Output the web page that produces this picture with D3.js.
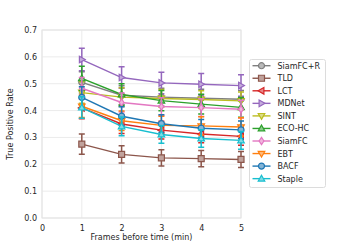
<!DOCTYPE html>
<html>
<head>
<meta charset="utf-8">
<script src="https://cdn.jsdelivr.net/npm/d3@7"></script>
<style>
  body { margin: 0; background: #fff; }
  text { font-family: "DejaVu Sans", sans-serif; fill: #262626; }
</style>
</head>
<body>
<svg id="chart"></svg>
<script>
const WIDTH = 337;
const HEIGHT = 245;
const margin = { top: 30, right: 96, bottom: 27, left: 42 };

// frames before time (min)
const minutes = [1, 2, 3, 4, 5];
const xTicks = [0, 1, 2, 3, 4, 5];
const yTicks = [0, 0.1, 0.2, 0.3, 0.4, 0.5, 0.6, 0.7];

const trackers = ['SiamFC+R', 'TLD', 'LCT', 'MDNet', 'SINT', 'ECO-HC', 'SiamFC', 'EBT', 'BACF', 'Staple'];
const colors = ['#7f7f7f', '#8c564b', '#d62728', '#9467bd', '#bcbd22', '#2ca02c', '#e377c2', '#ff7f0e', '#1f77b4', '#17becf'];
const markers = ['circle', 'square', 'left', 'right', 'down', 'up', 'diamond', 'tri', 'circle', 'up'];

const siamfcR = [0.505, 0.457, 0.450, 0.446, 0.442];
const tld = [0.275, 0.237, 0.224, 0.221, 0.218];
const lct = [0.410, 0.350, 0.327, 0.313, 0.304];
const mdnet = [0.590, 0.523, 0.503, 0.498, 0.493];
const sint = [0.467, 0.450, 0.445, 0.441, 0.436];
const ecoHC = [0.520, 0.460, 0.437, 0.424, 0.412];
const siamfc = [0.483, 0.430, 0.415, 0.411, 0.405];
const ebt = [0.416, 0.362, 0.345, 0.343, 0.339];
const bacf = [0.449, 0.379, 0.351, 0.334, 0.328];
const staple = [0.411, 0.341, 0.311, 0.296, 0.289];

const siamfcRErr = [0.04, 0.035, 0.033, 0.033, 0.033];
const tldErr = [0.038, 0.032, 0.03, 0.03, 0.03];
const lctErr = [0.04, 0.035, 0.033, 0.033, 0.033];
const mdnetErr = [0.042, 0.04, 0.04, 0.04, 0.04];
const sintErr = [0.04, 0.035, 0.033, 0.033, 0.033];
const ecoHCErr = [0.045, 0.04, 0.038, 0.037, 0.037];
const siamfcErr = [0.04, 0.035, 0.033, 0.033, 0.033];
const ebtErr = [0.042, 0.036, 0.034, 0.034, 0.034];
const bacfErr = [0.04, 0.035, 0.033, 0.033, 0.033];
const stapleErr = [0.04, 0.035, 0.033, 0.033, 0.033];

const values = [siamfcR, tld, lct, mdnet, sint, ecoHC, siamfc, ebt, bacf, staple];
const errors = [siamfcRErr, tldErr, lctErr, mdnetErr, sintErr, ecoHCErr, siamfcErr, ebtErr, bacfErr, stapleErr];

const series = trackers.map((name, i) => ({
  name, color: colors[i], marker: markers[i],
  points: minutes.map((m, j) => ({ x: m, y: values[i][j], e: errors[i][j] }))
}));

const svg = d3.select('#chart').attr('width', WIDTH).attr('height', HEIGHT);

const x = d3.scaleLinear().domain([0, 5]).range([margin.left, WIDTH - margin.right]);
const y = d3.scaleLinear().domain([0, 0.7]).range([HEIGHT - margin.bottom, margin.top]);

// grid
svg.append('g').selectAll('line').data(xTicks).enter().append('line')
  .attr('x1', d => x(d)).attr('x2', d => x(d))
  .attr('y1', y(0)).attr('y2', y(0.7))
  .attr('stroke', '#ebebeb').attr('stroke-width', 1);
svg.append('g').selectAll('line').data(yTicks).enter().append('line')
  .attr('x1', x(0)).attr('x2', x(5))
  .attr('y1', d => y(d)).attr('y2', d => y(d))
  .attr('stroke', '#ebebeb').attr('stroke-width', 1);
svg.append('rect')
  .attr('x', x(0)).attr('y', y(0.7))
  .attr('width', x(5) - x(0)).attr('height', y(0) - y(0.7))
  .attr('fill', 'none').attr('stroke', '#e3e3e3').attr('stroke-width', 1);

// axes (labels only, seaborn style)
const xAxis = svg.append('g').attr('transform', `translate(0,${y(0)})`)
  .call(d3.axisBottom(x).tickValues(xTicks).tickFormat(d3.format('d')).tickSize(0).tickPadding(7));
const yAxis = svg.append('g').attr('transform', `translate(${x(0)},0)`)
  .call(d3.axisLeft(y).tickValues(yTicks).tickFormat(d3.format('.1f')).tickSize(0).tickPadding(5));
[xAxis, yAxis].forEach(a => {
  a.select('.domain').remove();
  a.selectAll('text').style('font-family', '"DejaVu Sans", sans-serif').style('font-size', '8px').attr('fill', '#262626');
});

svg.append('text')
  .attr('x', (x(0) + x(5)) / 2).attr('y', HEIGHT - 5)
  .attr('text-anchor', 'middle').style('font-size', '8px')
  .text('Frames before time (min)');
svg.append('text')
  .attr('transform', `translate(13,${(y(0) + y(0.7)) / 2}) rotate(-90)`)
  .attr('text-anchor', 'middle').style('font-size', '8px')
  .text('True Positive Rate');

// marker shapes
function markerPath(type, s) {
  const h = s / 2;
  switch (type) {
    case 'square': return `M${-h},${-h}H${h}V${h}H${-h}Z`;
    case 'up': return `M0,${-h * 1.15}L${h * 1.1},${h * 0.8}L${-h * 1.1},${h * 0.8}Z`;
    case 'down': return `M0,${h * 1.15}L${h * 1.1},${-h * 0.8}L${-h * 1.1},${-h * 0.8}Z`;
    case 'left': return `M${-h * 1.15},0L${h * 0.8},${-h * 1.1}L${h * 0.8},${h * 1.1}Z`;
    case 'right': return `M${h * 1.15},0L${-h * 0.8},${-h * 1.1}L${-h * 0.8},${h * 1.1}Z`;
    case 'diamond': return `M0,${-h * 1.2}L${h * 0.8},0L0,${h * 1.2}L${-h * 0.8},0Z`;
    case 'tri': return `M${-h * 1.1},${-h * 0.7}L${h * 1.1},${-h * 0.7}L0,${h * 1.2}Z`;
    default: return d3.symbol(d3.symbolCircle, s * s * 0.8)();
  }
}

const line = d3.line().x(d => x(d.x)).y(d => y(d.y));

const g = svg.append('g');
series.forEach(s => {
  const sg = g.append('g');
  // error bars
  sg.selectAll('.err').data(s.points).enter().append('path')
    .attr('d', d => {
      const cx = x(d.x), t = y(d.y + d.e), b = y(d.y - d.e);
      return `M${cx},${t}V${b}M${cx - 3},${t}H${cx + 3}M${cx - 3},${b}H${cx + 3}`;
    })
    .attr('stroke', s.color).attr('stroke-width', 1.5).attr('fill', 'none');
  sg.append('path').datum(s.points)
    .attr('d', line).attr('fill', 'none')
    .attr('stroke', s.color).attr('stroke-width', 1.4);
  sg.selectAll('.mk').data(s.points).enter().append('path')
    .attr('transform', d => `translate(${x(d.x)},${y(d.y)})`)
    .attr('d', markerPath(s.marker, 6))
    .attr('fill', d3.interpolateRgb(s.color, '#fff')(0.45))
    .attr('stroke', s.color).attr('stroke-width', 1.2);
});

// legend
const lg = svg.append('g').attr('transform', 'translate(249.5,59.5)');
lg.append('rect').attr('width', 76).attr('height', 128).attr('rx', 2)
  .attr('fill', '#fff').attr('fill-opacity', 0.85)
  .attr('stroke', '#dcdcdc').attr('stroke-width', 1);
const item = lg.selectAll('.item').data(series).enter().append('g')
  .attr('transform', (d, i) => `translate(0,${6.2 + i * 12.55})`);
item.append('line').attr('x1', 3).attr('x2', 21).attr('y1', 0).attr('y2', 0)
  .attr('stroke', d => d.color).attr('stroke-width', 1.4);
item.append('path').attr('transform', 'translate(12,0)')
  .attr('d', d => markerPath(d.marker, 6))
  .attr('fill', d => d3.interpolateRgb(d.color, '#fff')(0.45))
  .attr('stroke', d => d.color).attr('stroke-width', 1.2);
item.append('text').attr('x', 28).attr('y', 3).style('font-size', '8px')
  .text(d => d.name);
</script>
</body>
</html>
